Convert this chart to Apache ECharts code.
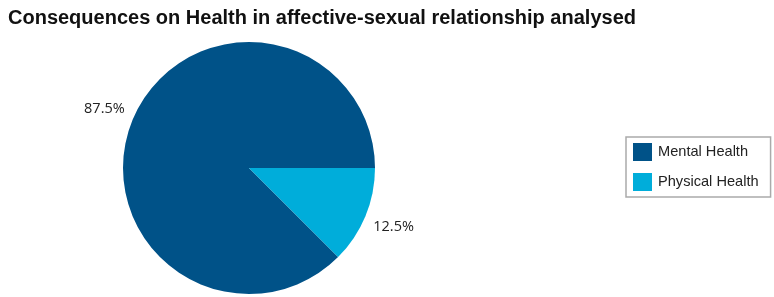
<!DOCTYPE html>
<html>
<head>
<meta charset="utf-8">
<script src="https://cdn.jsdelivr.net/npm/echarts@6/dist/echarts.min.js"></script>
<style>html,body{margin:0;padding:0;background:#fff;}#main{width:774px;height:297px;}</style>
</head>
<body>
<div id="main"></div>
<script>
const titleText = 'Consequences on Health in affective-sexual relationship analysed';
const categories = ['Mental Health', 'Physical Health'];
const values = [87.5, 12.5];
const colors = ['#005288', '#00ADDA'];

const chart = echarts.init(document.getElementById('main'), null, {renderer: 'canvas'});
chart.setOption({
  animation: false,
  color: colors,
  title: {
    text: titleText,
    left: 3, top: 3,
    textStyle: {fontFamily: 'Liberation Sans', fontWeight: 'bold', fontSize: 20, color: '#111'}
  },
  legend: {
    orient: 'vertical',
    left: 626, top: 137,
    data: categories,
    icon: 'rect',
    itemWidth: 19, itemHeight: 18, itemGap: 12,
    padding: [6, 12, 6, 7],
    borderColor: '#aaaaaa', borderWidth: 1.5, borderRadius: 0,
    textStyle: {fontFamily: 'Liberation Sans', fontSize: 14.6, color: '#222', padding: [0, 0, 0, 1]}
  },
  series: [{
    type: 'pie',
    center: [249, 168],
    radius: [0, 126],
    startAngle: 0,
    clockwise: false,
    data: categories.map((c, i) => ({name: c, value: values[i]})),
    label: {
      show: true,
      position: 'outside',
      formatter: p => p.value.toFixed(1) + '%',
      fontFamily: 'Open Sans', fontSize: 14.5, color: '#222',
      distanceToLabelLine: -18
    },
    labelLine: {show: false, length: 28, length2: 0},
    emphasis: {disabled: true}
  }]
});
</script>
</body>
</html>
